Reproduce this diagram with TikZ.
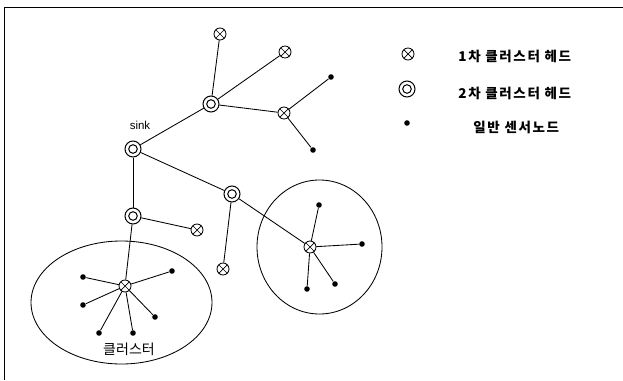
\documentclass[tikz,border=0pt]{standalone}
\usepackage{fontspec}
\setmainfont{Liberation Sans}
\newfontfamily\kr{Noto Sans CJK KR}
\newfontfamily\krsp{Noto Sans CJK KR}[LetterSpace=12]
\begin{document}
\begin{tikzpicture}[x=1pt,y=-1pt,line width=0.85pt,
  xhead/.style={circle,draw,fill=white,minimum size=12pt,inner sep=0pt,path picture={
     \draw[line width=0.7pt] (path picture bounding box.north west) -- (path picture bounding box.south east)
       (path picture bounding box.north east) -- (path picture bounding box.south west);}},
  dhead/.style={circle,draw,fill=white,minimum size=16pt,inner sep=0pt,line width=1pt,path picture={
     \draw[line width=1pt] (path picture bounding box.center) circle (4.3pt);}},
  sdot/.style={circle,fill=black,minimum size=5.6pt,inner sep=0pt},
  ktext/.style={font=\kr\fontsize{14}{16}\selectfont,inner sep=0pt},
  ltext/.style={font=\krsp\bfseries\fontsize{13.5}{16}\selectfont,inner sep=0pt,anchor=west}]
\useasboundingbox (0,0) rectangle (623,380);
\draw[line width=1pt] (4,380) coordinate (fbl) -- (4,7) coordinate (ftl) -- (623,7) coordinate (ftr);
% clusters
\draw (121.5,302.5) ellipse (90.5 and 61.5);
\draw (319.5,247) ellipse (62.5 and 67);
% nodes
\node[sdot] (d1) at (331,77) {};
\node[sdot] (d2) at (313,150) {};
\node[sdot] (l1) at (83,277) {};
\node[sdot] (l2) at (172,271) {};
\node[sdot] (l3) at (83,305) {};
\node[sdot] (l4) at (155,317) {};
\node[sdot] (l5) at (99,333) {};
\node[sdot] (l6) at (133,333) {};
\node[sdot] (r1) at (319,205) {};
\node[sdot] (r2) at (362,244) {};
\node[sdot] (r3) at (335,284) {};
\node[sdot] (r4) at (307,289) {};
\node[dhead] (sink) at (133,149) {};
\node[dhead] (up) at (211,104) {};
\node[dhead] (mid) at (232,194) {};
\node[dhead] (low) at (133,216) {};
\node[xhead] (x1) at (220,34) {};
\node[xhead] (x2) at (285,52) {};
\node[xhead] (x3) at (284,113) {};
\node[xhead] (x4) at (197,230) {};
\node[xhead] (x5) at (223,269) {};
\node[xhead] (lc) at (125,286) {};
\node[xhead] (rc) at (310,247) {};
% edges
\draw (sink) -- (up); \draw (up) -- (x1); \draw (up) -- (x2); \draw (up) -- (x3);
\draw (x3) -- (d1); \draw (x3) -- (d2);
\draw (sink) -- (mid); \draw (sink) -- (low);
\draw (low) -- (x4); \draw (low) -- (lc);
\draw (mid) -- (x5); \draw (mid) -- (rc);
\foreach \n in {l1,l2,l3,l4,l5,l6} \draw (lc) -- (\n);
\foreach \n in {r1,r2,r3,r4} \draw (rc) -- (\n);
% labels
\node[font=\fontsize{11.5}{13}\selectfont] (sinklbl) at (140,125) {sink};
\node[ktext] (clbl) at (129,349) {클러스터};
% legend
\node[xhead] (lgx) at (408,54) {};
\node[dhead] (lgd) at (407,89) {};
\node[sdot] (lgs) at (407,123) {};
\node[ltext] (t1) at (458,56) {1차 클러스터 헤드};
\node[ltext] (t2) at (458,93) {2차 클러스터 헤드};
\node[ltext] (t3) at (473,127) {일반 센서노드};
\end{tikzpicture}
\end{document}
